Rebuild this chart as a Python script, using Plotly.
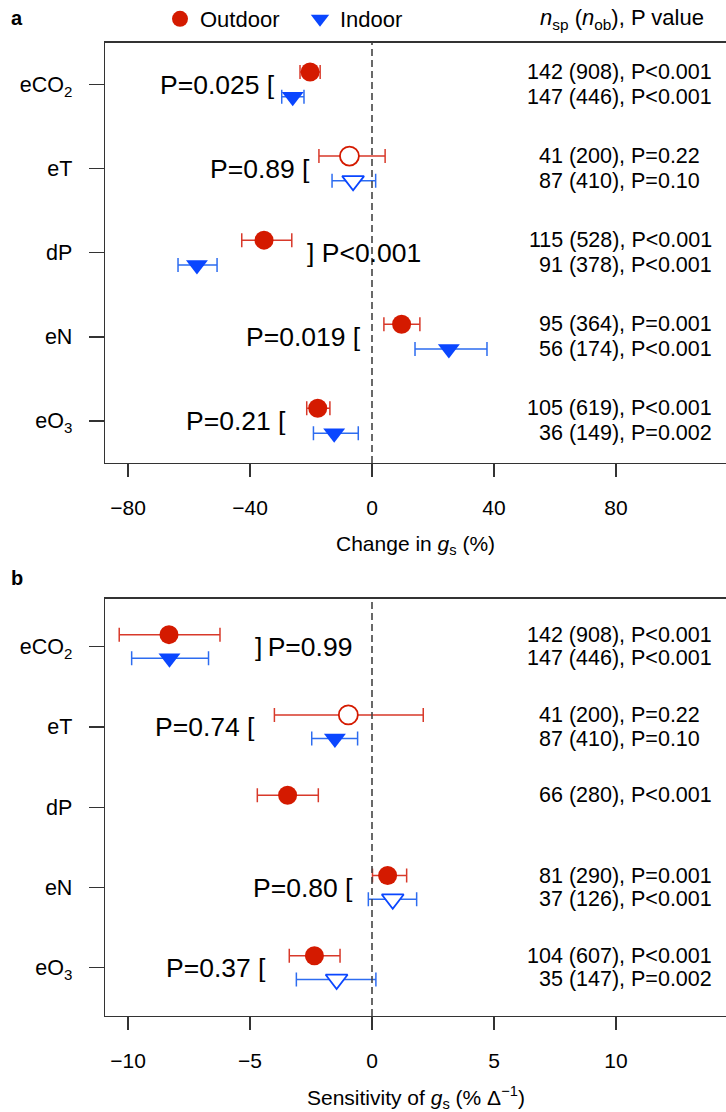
import plotly.graph_objects as go

# ---------------- data ----------------
categories = ["eCO<sub>2</sub>", "eT", "dP", "eN", "eO<sub>3</sub>"]
cat_pos = [1, 2, 3, 4, 5]

# Panel a: change in gs (%)
a_out_mean = [-20.3, -7.4, -35.4, 9.7, -17.8]
a_out_lo = [-23.6, -17.4, -42.7, 3.9, -21.4]
a_out_hi = [-17.0, 4.3, -26.3, 15.7, -13.8]
a_out_filled = [True, False, True, True, True]
a_in_mean = [-26.0, -6.2, -57.4, 25.2, -12.4]
a_in_lo = [-29.6, -13.1, -63.6, 14.1, -19.2]
a_in_hi = [-22.3, 1.2, -50.8, 37.7, -4.5]
a_in_filled = [True, False, True, True, True]
a_out_n = ["142 (908), P<0.001", "41 (200), P=0.22", "115 (528), P<0.001",
           "95 (364), P=0.001", "105 (619), P<0.001"]
a_in_n = ["147 (446), P<0.001", "87 (410), P=0.10", "91 (378), P<0.001",
          "56 (174), P<0.001", "36 (149), P=0.002"]
a_pair_p = ["P=0.025", "P=0.89", "P<0.001", "P=0.019", "P=0.21"]
a_pair_side = ["left", "left", "right", "left", "left"]
a_pair_x = [-31.2, -19.8, -22.0, -3.0, -27.5]
a_ticks = [-80, -40, 0, 40, 80]

# Panel b: sensitivity of gs (% per unit)
b_out_mean = [-8.32, -0.97, -3.46, 0.64, -2.36]
b_out_lo = [-10.36, -4.0, -4.7, 0.02, -3.39]
b_out_hi = [-6.23, 2.1, -2.2, 1.42, -1.31]
b_out_filled = [True, False, True, True, True]
b_in_mean = [-8.3, -1.52, None, 0.85, -1.45]
b_in_lo = [-9.85, -2.47, None, -0.15, -3.1]
b_in_hi = [-6.7, -0.59, None, 1.83, 0.16]
b_in_filled = [True, True, None, False, False]
b_out_n = ["142 (908), P<0.001", "41 (200), P=0.22", "66 (280), P<0.001",
           "81 (290), P=0.001", "104 (607), P<0.001"]
b_in_n = ["147 (446), P<0.001", "87 (410), P=0.10", None,
          "37 (126), P<0.001", "35 (147), P=0.002"]
b_pair_p = ["P=0.99", "P=0.74", None, "P=0.80", "P=0.37"]
b_pair_side = ["right", "left", None, "left", "left"]
b_pair_x = [-4.88, -4.73, None, -0.70, -4.26]
b_ticks = [-10, -5, 0, 5, 10]

# ---------------- style ----------------
FONT = "Liberation Sans, Arial, Helvetica, sans-serif"
RED_M, RED_B = "#D41A00", "#D8392A"
BLUE_M, BLUE_B = "#0A46FF", "#2D6CF0"
AXC = "#333333"
W, H = 726, 1112
L = 105
PW = W - L
OFF_OUT, OFF_IN = -0.15, 0.145


def py(px):
    return 1 - px / H


fig = go.Figure()


def add_group(means, lo, hi, filled, offset, cm, cb, symbol, size, name, xa, ya, legend):
    for want in (True, False):
        idx = [i for i, m in enumerate(means) if m is not None and filled[i] == want]
        if not idx:
            continue
        fig.add_trace(go.Scatter(
            x=[means[i] for i in idx],
            y=[cat_pos[i] + offset for i in idx],
            mode="markers",
            marker=dict(symbol=symbol, size=size,
                        color=cm if want else "white",
                        line=dict(color=cm, width=0 if want else 1.8)),
            error_x=dict(type="data", symmetric=False,
                         array=[hi[i] - means[i] for i in idx],
                         arrayminus=[means[i] - lo[i] for i in idx],
                         color=cb, thickness=1.5, width=7),
            name=name, showlegend=legend and want,
            xaxis=xa, yaxis=ya, hoverinfo="skip"))


add_group(a_out_mean, a_out_lo, a_out_hi, a_out_filled, OFF_OUT, RED_M, RED_B,
          "circle", 19, "Outdoor", "x", "y", True)
add_group(a_in_mean, a_in_lo, a_in_hi, a_in_filled, OFF_IN, BLUE_M, BLUE_B,
          "triangle-down", 19, "Indoor", "x", "y", True)
add_group(b_out_mean, b_out_lo, b_out_hi, b_out_filled, OFF_OUT, RED_M, RED_B,
          "circle", 19, "Outdoor", "x2", "y2", False)
add_group(b_in_mean, b_in_lo, b_in_hi, b_in_filled, OFF_IN, BLUE_M, BLUE_B,
          "triangle-down", 19, "Indoor", "x2", "y2", False)

annotations = []


def pad(s):
    # pad shorter P values with figure spaces so right edges line up as in the original
    p = s.split("P", 1)[1]
    return s + "\u2007" * max(0, 6 - len(p))


def add_panel_text(out_n, in_n, pair_p, pair_side, pair_x, xr, yr):
    for i in range(len(cat_pos)):
        for txt, off in ((out_n[i], OFF_OUT), (in_n[i], OFF_IN)):
            if txt is None:
                continue
            annotations.append(dict(
                text=pad(txt), xref="paper", yref=yr, x=(714 - L) / PW, y=cat_pos[i] + off,
                xanchor="right", yanchor="middle", showarrow=False,
                font=dict(size=21.5, color="black", family=FONT)))
        if pair_p[i] is None:
            continue
        if pair_side[i] == "left":
            t, xa = pair_p[i] + " [", "right"
        else:
            t, xa = ("] " + pair_p[i]) if i == 2 else ("]\u2009" + pair_p[i]), "left"
        annotations.append(dict(
            text=t, xref=xr, yref=yr, x=pair_x[i], y=cat_pos[i],
            xanchor=xa, yanchor="middle", showarrow=False,
            font=dict(size=26.5, color="black", family=FONT)))


add_panel_text(a_out_n, a_in_n, a_pair_p, a_pair_side, a_pair_x, "x", "y")
add_panel_text(b_out_n, b_in_n, b_pair_p, b_pair_side, b_pair_x, "x2", "y2")

annotations += [
    dict(text="<b>a</b>", xref="paper", yref="paper", x=(17 - L) / PW, y=py(18),
         xanchor="center", yanchor="middle", showarrow=False,
         font=dict(size=20, color="black", family=FONT)),
    dict(text="<b>b</b>", xref="paper", yref="paper", x=(17 - L) / PW, y=py(578),
         xanchor="center", yanchor="middle", showarrow=False,
         font=dict(size=20, color="black", family=FONT)),
    dict(text="<i>n</i><sub>sp</sub> (<i>n</i><sub>ob</sub>), P value", xref="paper", yref="paper",
         x=(706 - L) / PW, y=py(19), xanchor="right", yanchor="middle", showarrow=False,
         font=dict(size=22, color="black", family=FONT)),
    dict(text="Change in <i>g</i><sub>s</sub> (%)", xref="paper", yref="paper",
         x=0.5, y=py(545), xanchor="center", yanchor="middle", showarrow=False,
         font=dict(size=21, color="black", family=FONT)),
    dict(text="Sensitivity of <i>g</i><sub>s</sub> (% \u0394<sup>\u22121</sup>)", xref="paper", yref="paper",
         x=0.5, y=py(1097), xanchor="center", yanchor="middle", showarrow=False,
         font=dict(size=21, color="black", family=FONT)),
]

shapes = [
    dict(type="line", xref="x", yref="y domain", x0=0, x1=0, y0=0, y1=1,
         line=dict(color="#444444", width=1.6, dash="7px,4px")),
    dict(type="line", xref="x2", yref="y2 domain", x0=0, x1=0, y0=0, y1=1,
         line=dict(color="#444444", width=1.6, dash="7px,4px")),
]


def tick_text(vals):
    return [("\u2212" + str(abs(v))) if v < 0 else str(v) for v in vals]


xcommon = dict(showgrid=False, zeroline=False, showline=True, linecolor=AXC, linewidth=1.3,
               mirror=True, ticks="outside", ticklen=13, tickwidth=1.3, tickcolor=AXC,
               tickfont=dict(size=21, color="black", family=FONT), ticklabelstandoff=12)
ycommon = dict(showgrid=False, zeroline=False, showline=True, linecolor=AXC, linewidth=1.3,
               mirror=False, ticks="outside", ticklen=15, tickwidth=1.3, tickcolor=AXC,
               tickvals=cat_pos, ticktext=categories,
               tickfont=dict(size=21.5, color="black", family=FONT), ticklabelstandoff=12)

a_left = -267 / 3.05
b_left = -267 / 24.4

fig.update_layout(
    width=W, height=H,
    margin=dict(l=L, r=0, t=0, b=0, autoexpand=False),
    paper_bgcolor="white", plot_bgcolor="white",
    font=dict(family=FONT, color="black"),
    xaxis=dict(domain=[0, 1], anchor="y", range=[a_left, a_left + PW / 3.05],
               tickvals=a_ticks, ticktext=tick_text(a_ticks), **xcommon),
    yaxis=dict(domain=[py(463), py(42.5)], anchor="x", range=[5.5, 0.5], **ycommon),
    xaxis2=dict(domain=[0, 1], anchor="y2", range=[b_left, b_left + PW / 24.4],
                tickvals=b_ticks, ticktext=tick_text(b_ticks), **xcommon),
    yaxis2=dict(domain=[py(1016), py(598.5)], anchor="x2", range=[5.6, 0.4], **ycommon),
    showlegend=True,
    hovermode=False,
    legend=dict(orientation="h", x=(160 - L) / PW, xanchor="left", y=py(19), yanchor="middle",
                bgcolor="rgba(0,0,0,0)", font=dict(size=22, color="black", family=FONT),
                itemsizing="trace", entrywidth=95, entrywidthmode="pixels"),
    annotations=annotations,
    shapes=shapes,
)

fig.write_html("out.html",
               config={"displayModeBar": False, "staticPlot": True},
               post_script="document.body.style.margin='0px';document.body.style.padding='0px';")
